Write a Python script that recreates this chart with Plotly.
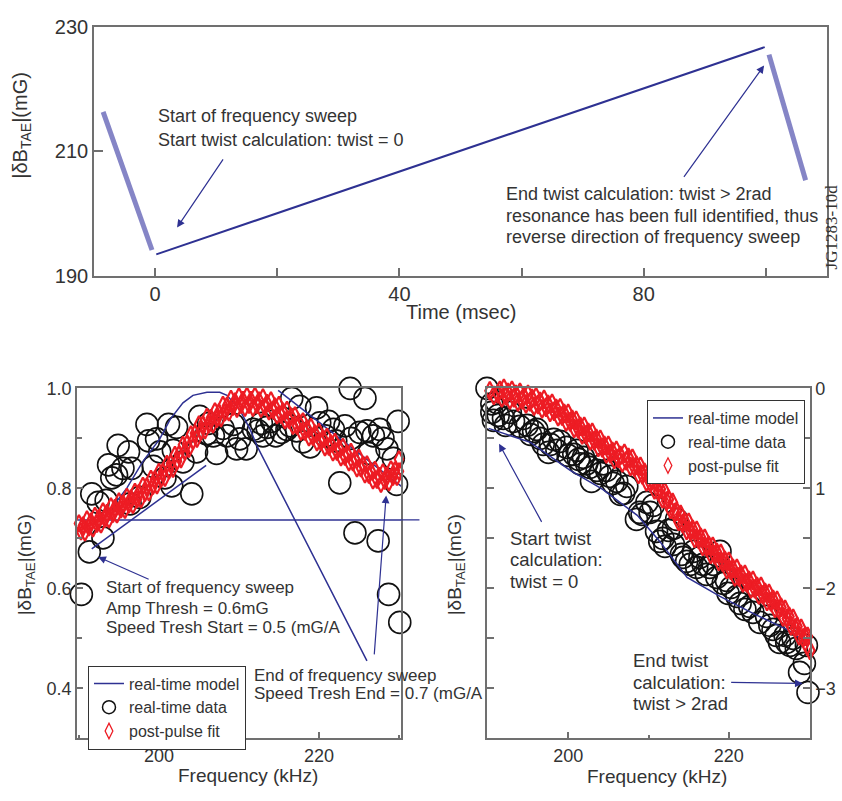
import plotly.graph_objects as go

# ---------------- top panel data ----------------
bar1_t = [-8.5, -0.5]
bar1_v = [216.3, 194.1]
sweep_t = [0.2, 99.8]
sweep_v = [193.4, 226.7]
bar2_t = [100.5, 106.5]
bar2_v = [225.5, 205.3]

# ---------------- bottom-left data ----------------
model_l_x = [189.8, 230.25, None,
             193.2, 193.9, 196.0, 198.0, 200.1, 201.4, 203.0, 204.25, 206.0, 207.6, 208.5, 210.1, 211.4, 212.25, 226.0, None,
             191.6, 205.9, None,
             214.9, 230.4]
model_l_y = [0.737, 0.737, None,
             0.74, 0.757, 0.801, 0.854, 0.899, 0.938, 0.971, 0.986, 0.992, 0.992, 0.986, 0.957, 0.918, 0.885, 0.455, None,
             0.679, 0.846, None,
             0.996, 0.803]

data_l_x = [189.7, 190.3, 191.3, 191.6, 192.4, 193.0, 193.4, 193.7, 194.1, 194.7, 194.9, 195.5, 196.2, 196.6, 196.4,
            197.6, 198.5, 198.7, 199.3, 199.7, 200.1, 200.75, 201.2, 201.6, 202.2, 201.8, 203.0, 204.1, 204.7, 205.1,
            205.95, 206.8, 207.2, 208.5, 209.3, 209.7, 210.1, 210.9, 211.8, 212.4, 213.0, 213.5, 214.1, 216.0, 216.6,
            217.6, 218.0, 218.9, 219.7, 220.1, 221.2, 221.8, 222.6, 223.25, 223.9, 224.5, 225.1, 225.75, 226.2, 226.8,
            227.4, 227.6, 228.5, 228.7, 229.3, 229.7, 229.9, 230.1,
            214.6, 215.3, 216.4, 217.2, 220.8, 222.1, 224.0, 226.0, 228.0, 212.8, 208.0, 206.2]
data_l_y = [0.772, 0.588, 0.673, 0.789, 0.772, 0.701, 0.776, 0.847, 0.821, 0.827, 0.886, 0.840, 0.873, 0.840, 0.769,
            0.782, 0.928, 0.895, 0.844, 0.899, 0.873, 0.821, 0.928, 0.805, 0.922, 0.876, 0.853, 0.789, 0.873, 0.944,
            0.909, 0.905, 0.870, 0.905, 0.928, 0.879, 0.899, 0.879, 0.918, 0.915, 0.905, 0.922, 0.934, 0.918, 0.980,
            0.964, 0.893, 0.883, 0.961, 0.931, 0.934, 0.918, 0.811, 0.925, 1.0, 0.711, 0.912, 0.980, 0.870, 0.905,
            0.695, 0.918, 0.879, 0.588, 0.860, 0.808, 0.934, 0.532,
            0.905, 0.912, 0.925, 0.915, 0.905, 0.895, 0.900, 0.915, 0.900, 0.930, 0.920, 0.930]

fit_x = [190.0, 190.25, 190.5, 190.75, 191.0, 191.25, 191.5, 191.75,
         192.0, 192.25, 192.5, 192.75, 193.0, 193.25, 193.5, 193.75,
         194.0, 194.25, 194.5, 194.75, 195.0, 195.25, 195.5, 195.75,
         196.0, 196.25, 196.5, 196.75, 197.0, 197.25, 197.5, 197.75,
         198.0, 198.25, 198.5, 198.75, 199.0, 199.25, 199.5, 199.75,
         200.0, 200.25, 200.5, 200.75, 201.0, 201.25, 201.5, 201.75,
         202.0, 202.25, 202.5, 202.75, 203.0, 203.25, 203.5, 203.75,
         204.0, 204.25, 204.5, 204.75, 205.0, 205.25, 205.5, 205.75,
         206.0, 206.25, 206.5, 206.75, 207.0, 207.25, 207.5, 207.75,
         208.0, 208.25, 208.5, 208.75, 209.0, 209.25, 209.5, 209.75,
         210.0, 210.25, 210.5, 210.75, 211.0, 211.25, 211.5, 211.75,
         212.0, 212.25, 212.5, 212.75, 213.0, 213.25, 213.5, 213.75,
         214.0, 214.25, 214.5, 214.75, 215.0, 215.25, 215.5, 215.75,
         216.0, 216.25, 216.5, 216.75, 217.0, 217.25, 217.5, 217.75,
         218.0, 218.25, 218.5, 218.75, 219.0, 219.25, 219.5, 219.75,
         220.0, 220.25, 220.5, 220.75, 221.0, 221.25, 221.5, 221.75,
         222.0, 222.25, 222.5, 222.75, 223.0, 223.25, 223.5, 223.75,
         224.0, 224.25, 224.5, 224.75, 225.0, 225.25, 225.5, 225.75,
         226.0, 226.25, 226.5, 226.75, 227.0, 227.25, 227.5, 227.75,
         228.0, 228.25, 228.5, 228.75, 229.0, 229.25, 229.5, 229.75]

fit_l_x = fit_x + [230.0, 230.0]
fit_l_y = [0.730, 0.714, 0.726, 0.712, 0.738, 0.722, 0.734, 0.720,
           0.745, 0.729, 0.741, 0.728, 0.754, 0.739, 0.751, 0.738,
           0.764, 0.749, 0.761, 0.748, 0.774, 0.758, 0.770, 0.757,
           0.783, 0.768, 0.780, 0.767, 0.793, 0.778, 0.791, 0.778,
           0.805, 0.791, 0.804, 0.792, 0.819, 0.805, 0.818, 0.806,
           0.833, 0.819, 0.833, 0.821, 0.849, 0.836, 0.850, 0.839,
           0.867, 0.854, 0.868, 0.858, 0.887, 0.874, 0.889, 0.879,
           0.908, 0.895, 0.910, 0.899, 0.928, 0.914, 0.928, 0.916,
           0.943, 0.928, 0.941, 0.928, 0.954, 0.939, 0.952, 0.940,
           0.967, 0.952, 0.965, 0.952, 0.979, 0.963, 0.974, 0.959,
           0.984, 0.967, 0.977, 0.961, 0.985, 0.967, 0.977, 0.961,
           0.985, 0.967, 0.976, 0.959, 0.982, 0.963, 0.971, 0.954,
           0.976, 0.956, 0.964, 0.946, 0.967, 0.947, 0.954, 0.936,
           0.957, 0.937, 0.944, 0.925, 0.946, 0.925, 0.932, 0.913,
           0.934, 0.913, 0.920, 0.902, 0.923, 0.903, 0.910, 0.892,
           0.913, 0.893, 0.900, 0.882, 0.903, 0.883, 0.890, 0.872,
           0.893, 0.873, 0.880, 0.862, 0.883, 0.863, 0.870, 0.852,
           0.873, 0.852, 0.859, 0.840, 0.861, 0.840, 0.847, 0.828,
           0.848, 0.827, 0.834, 0.816, 0.837, 0.817, 0.825, 0.809,
           0.832, 0.815, 0.826, 0.812, 0.838, 0.823, 0.836, 0.823,
           0.858, 0.834]

# ---------------- bottom-right data ----------------
model_r_x = [190.1, 195.3, 200.25, 204.3, 208.6, 211.4, 214.8, 218.9, 223.0, 227.2, 229.7]
model_r_y = [-0.40, -0.54, -0.82, -1.01, -1.27, -1.53, -1.89, -2.08, -2.25, -2.41, -2.54]

data_r_x = [189.9, 190.5, 190.7, 191.3, 192.2, 192.8, 194.0, 194.9, 195.7, 196.5, 197.55, 198.2, 199.0, 199.8, 200.7,
            201.3, 201.9, 202.3, 202.9, 203.6, 204.4, 205.2, 206.05, 206.5, 207.3, 208.5, 209.2, 209.8, 210.6, 211.4,
            212.05, 212.5, 213.1, 213.5, 214.1, 214.75, 215.2, 215.6, 216.4, 217.2, 217.6, 218.05, 218.9, 219.3, 219.9,
            220.3, 221.4, 222.0, 222.6, 223.85, 224.7, 225.5, 226.3, 227.0, 227.6, 228.4, 228.8, 229.4, 229.85, 229.65,
            190.5, 191.1, 191.95, 193.2, 194.45, 195.3, 196.1, 196.9, 197.8, 198.6, 200.0, 201.1, 201.5, 202.7, 204.0,
            204.8, 205.6, 206.9, 208.9, 210.2, 211.0, 211.8, 213.1, 214.3, 216.0, 216.8, 218.5, 219.7, 221.0, 223.0,
            225.1, 225.9, 227.2, 228.0]
data_r_y = [0.0, -0.155, -0.32, -0.27, -0.37, -0.24, -0.38, -0.37, -0.43, -0.50, -0.64, -0.51, -0.53, -0.59, -0.66,
            -0.71, -0.69, -0.755, -0.93, -0.82, -0.755, -0.88, -0.93, -1.06, -0.98, -1.31, -1.26, -1.14, -1.17, -1.53,
            -1.58, -1.42, -1.40, -1.31, -1.66, -1.73, -1.76, -1.63, -1.69, -1.86, -1.79, -1.76, -1.63, -1.95, -2.05,
            -1.99, -2.15, -2.21, -2.18, -2.34, -2.28, -2.41, -2.54, -2.47, -2.57, -2.60, -2.84, -2.75, -3.04, -2.57,
            -0.24, -0.14, -0.30, -0.33, -0.30, -0.46, -0.41, -0.56, -0.56, -0.62, -0.67, -0.62, -0.755, -0.79, -0.85,
            -0.82, -0.95, -1.05, -1.24, -1.24, -1.43, -1.50, -1.56, -1.69, -1.79, -1.76, -1.89, -1.92, -2.08, -2.24,
            -2.37, -2.47, -2.54, -2.50]

fit_r_x = fit_x + [229.8, 230.1]
fit_r_y = [0.040, -0.025, 0.010, -0.070, 0.020, -0.055, -0.020, -0.095,
           0.000, -0.075, -0.040, -0.115, -0.020, -0.095, -0.060, -0.135,
           -0.040, -0.115, -0.080, -0.155, -0.060, -0.135, -0.100, -0.178,
           -0.085, -0.163, -0.130, -0.205, -0.110, -0.190, -0.160, -0.240,
           -0.150, -0.230, -0.200, -0.283, -0.195, -0.278, -0.250, -0.335,
           -0.250, -0.335, -0.310, -0.400, -0.320, -0.405, -0.380, -0.465,
           -0.380, -0.465, -0.440, -0.525, -0.440, -0.525, -0.500, -0.590,
           -0.510, -0.595, -0.570, -0.655, -0.570, -0.655, -0.630, -0.710,
           -0.620, -0.700, -0.670, -0.745, -0.650, -0.725, -0.690, -0.780,
           -0.700, -0.790, -0.770, -0.860, -0.780, -0.865, -0.840, -0.935,
           -0.860, -0.945, -0.920, -1.015, -0.940, -1.030, -1.010, -1.105,
           -1.030, -1.125, -1.110, -1.210, -1.140, -1.240, -1.230, -1.330,
           -1.260, -1.350, -1.330, -1.420, -1.340, -1.430, -1.410, -1.500,
           -1.420, -1.510, -1.490, -1.580, -1.500, -1.590, -1.570, -1.660,
           -1.580, -1.665, -1.640, -1.730, -1.650, -1.740, -1.720, -1.810,
           -1.730, -1.820, -1.800, -1.885, -1.800, -1.885, -1.860, -1.945,
           -1.860, -1.945, -1.920, -2.005, -1.920, -2.005, -1.980, -2.065,
           -1.980, -2.065, -2.040, -2.130, -2.050, -2.135, -2.110, -2.200,
           -2.120, -2.210, -2.190, -2.285, -2.210, -2.300, -2.280, -2.375,
           -2.300, -2.395, -2.380, -2.475, -2.400, -2.495, -2.480, -2.575,
           -2.480, -2.620]

twist_ticks = [0, -1, -2, -3]
twist_labels = ["0", "1", "\u22122", "\u22123"]

# ---------------- styles ----------------
FONT = "Liberation Sans, Arial, sans-serif"
TXT = "#333333"
BLUE = "#2e3192"
LILAC = "#8585c6"
RED = "#ed1c24"
AX = "#707070"

CIRC = dict(symbol="circle-open", size=22, color="#111111", line=dict(width=1.6))
DIAM_L = dict(symbol="diamond-tall-open", size=12, color=RED, line=dict(width=2.2))
DIAM_R = dict(symbol="diamond-tall-open", size=13, color=RED, line=dict(width=2.2))

fig = go.Figure()

# top panel
fig.add_trace(go.Scatter(x=bar1_t, y=bar1_v, mode="lines", line=dict(color=LILAC, width=5),
                         xaxis="x", yaxis="y", showlegend=False))
fig.add_trace(go.Scatter(x=sweep_t, y=sweep_v, mode="lines", line=dict(color=BLUE, width=2),
                         xaxis="x", yaxis="y", showlegend=False))
fig.add_trace(go.Scatter(x=bar2_t, y=bar2_v, mode="lines", line=dict(color=LILAC, width=5),
                         xaxis="x", yaxis="y", showlegend=False))

# bottom-left
fig.add_trace(go.Scatter(x=data_l_x, y=data_l_y, mode="markers", marker=CIRC, cliponaxis=False,
                         xaxis="x2", yaxis="y2", showlegend=False))
fig.add_trace(go.Scatter(x=model_l_x, y=model_l_y, mode="lines", line=dict(color=BLUE, width=1.5),
                         connectgaps=False, xaxis="x2", yaxis="y2", showlegend=False))
fig.add_trace(go.Scatter(x=fit_l_x, y=fit_l_y, mode="markers", marker=DIAM_L, cliponaxis=False,
                         xaxis="x2", yaxis="y2", showlegend=False))

# bottom-right
fig.add_trace(go.Scatter(x=data_r_x, y=data_r_y, mode="markers", marker=CIRC, cliponaxis=False,
                         xaxis="x3", yaxis="y3", showlegend=False))
fig.add_trace(go.Scatter(x=model_r_x, y=model_r_y, mode="lines", line=dict(color=BLUE, width=1.5),
                         xaxis="x3", yaxis="y3", showlegend=False))
fig.add_trace(go.Scatter(x=fit_r_x, y=fit_r_y, mode="markers", marker=DIAM_R, cliponaxis=False,
                         xaxis="x3", yaxis="y3", showlegend=False))

# legend entries (one set per lower panel)
for lg, xa, ya in (("legend", "x2", "y2"), ("legend2", "x3", "y3")):
    fig.add_trace(go.Scatter(x=[None], y=[None], mode="lines", name="real-time model",
                             line=dict(color=BLUE, width=1.5), xaxis=xa, yaxis=ya, legend=lg))
    fig.add_trace(go.Scatter(x=[None], y=[None], mode="markers", name="real-time data",
                             marker=dict(symbol="circle-open", size=13, color="#111111", line=dict(width=1.5)),
                             xaxis=xa, yaxis=ya, legend=lg))
    fig.add_trace(go.Scatter(x=[None], y=[None], mode="markers", name="post-pulse fit",
                             marker=dict(symbol="diamond-tall-open", size=11, color=RED, line=dict(width=1.3)),
                             xaxis=xa, yaxis=ya, legend=lg))


def axis(**kw):
    base = dict(showline=True, linecolor=AX, linewidth=1.5, mirror=True, showgrid=False, zeroline=False,
                ticks="inside", tickcolor=AX, tickwidth=1.5,
                tickfont=dict(family=FONT, size=18, color=TXT))
    base.update(kw)
    return base


minor_style = dict(ticks="inside", tickcolor=AX, tickwidth=1.5, showgrid=False)
legend_style = dict(xanchor="left", yanchor="top", bgcolor="white", bordercolor="#333333", borderwidth=1,
                    font=dict(family=FONT, size=16, color=TXT), itemsizing="trace", tracegroupgap=0)

fig.update_layout(
    width=842, height=801, margin=dict(l=0, r=0, t=0, b=0),
    paper_bgcolor="white", plot_bgcolor="white",
    font=dict(family=FONT, color=TXT),
    xaxis=axis(domain=[0.1116, 0.9822], anchor="y", range=[-10, 110], tick0=0, dtick=40, ticklen=8,
               tickfont=dict(family=FONT, size=20, color=TXT),
               minor=dict(tick0=0, dtick=20, ticklen=8, **minor_style)),
    yaxis=axis(domain=[0.6604, 0.9800], anchor="x", range=[190, 230], tick0=190, dtick=20, ticklen=9,
               tickfont=dict(family=FONT, size=20, color=TXT)),
    xaxis2=axis(domain=[0.0914, 0.4762], anchor="y2", range=[189.75, 230.25], tick0=200, dtick=20, ticklen=7,
                minor=dict(tick0=200, dtick=10, ticklen=4, **minor_style)),
    yaxis2=axis(domain=[0.0662, 0.5156], anchor="x2", range=[0.3, 1.0], tick0=0.4, dtick=0.2, ticklen=6,
                tickformat=".1f",
                minor=dict(tick0=0.3, dtick=0.1, ticklen=5, **minor_style)),
    xaxis3=axis(domain=[0.5784, 0.9620], anchor="y3", range=[189.9, 230.1], tick0=200, dtick=20, ticklen=7,
                minor=dict(tick0=200, dtick=10, ticklen=4, **minor_style)),
    yaxis3=axis(domain=[0.0662, 0.5156], anchor="x3", side="right", mirror="ticks", range=[-3.5, 0.0],
                tickmode="array", tickvals=twist_ticks, ticktext=twist_labels, ticklen=7,
                minor=dict(tickmode="array", tickvals=[-0.5, -1.5, -2.5], ticklen=7, **minor_style)),
    legend=dict(x=0.1045, y=0.1598, **legend_style),
    legend2=dict(x=0.7684, y=0.5006, **legend_style),
)

ann = []


def text(x, y, s, xref, yref, size, xanchor="left", angle=0, family=FONT):
    ann.append(dict(x=x, y=y, xref=xref, yref=yref, text=s, showarrow=False, xanchor=xanchor, yanchor="middle",
                    textangle=angle, font=dict(family=family, size=size, color=TXT)))


def arrow(x, y, ax, ay, xr, yr, head=2):
    ann.append(dict(x=x, y=y, ax=ax, ay=ay, xref=xr, yref=yr, axref=xr, ayref=yr, text="", showarrow=True,
                    arrowhead=head, arrowsize=1.3, arrowwidth=1.2, arrowcolor=BLUE, standoff=0, startstandoff=0))


# top panel texts
text(0.16, 215.6, "Start of frequency sweep", "x", "y", 18)
text(0.16, 211.7, "Start twist calculation: twist = 0", "x", "y", 18)
text(57.1, 203.1, "End twist calculation: twist > 2rad", "x", "y", 18)
text(57.1, 199.5, "resonance has been full identified, thus", "x", "y", 18)
text(57.1, 196.25, "reverse direction of frequency sweep", "x", "y", 18)
arrow(3.6, 197.7, 11.3, 208.9, "x", "y")
arrow(99.7, 223.75, 86.4, 205.6, "x", "y")

# bottom-left texts
text(193.1, 0.601, "Start of frequency sweep", "x2", "y2", 17)
text(193.1, 0.560, "Amp Thresh = 0.6mG", "x2", "y2", 17)
text(193.1, 0.521, "Speed Tresh Start = 0.5 (mG/A", "x2", "y2", 17)
text(211.6, 0.426, "End of frequency sweep", "x2", "y2", 17)
text(211.6, 0.389, "Speed Tresh End = 0.7 (mG/A", "x2", "y2", 17)
arrow(192.4, 0.663, 198.9, 0.617, "x2", "y2")
arrow(228.4, 0.786, 226.9, 0.465, "x2", "y2")
arrow(230.2, 0.737, 232.75, 0.737, "x2", "y2", head=0)

# bottom-right texts
text(192.55, -1.50, "Start twist", "x3", "y3", 18.5)
text(192.55, -1.71, "calculation:", "x3", "y3", 18.5)
text(192.55, -1.93, "twist = 0", "x3", "y3", 18.5)
text(207.8, -2.72, "End twist", "x3", "y3", 18.5)
text(207.8, -2.94, "calculation:", "x3", "y3", 18.5)
text(207.8, -3.15, "twist > 2rad", "x3", "y3", 18.5)
arrow(191.4, -0.554, 196.8, -1.35, "x3", "y3")
arrow(229.2, -2.95, 220.1, -2.94, "x3", "y3")

# axis titles
ytitle = "|\u03b4B<sub>TAE</sub>|(mG)"
text(0.5475, 0.6142, "Time (msec)", "paper", "paper", 20, xanchor="center")
text(0.2945, 0.0187, "Frequency (kHz)", "paper", "paper", 19, xanchor="center")
text(0.780, 0.0175, "Frequency (kHz)", "paper", "paper", 19, xanchor="center")
text(0.0261, 0.854, ytitle, "paper", "paper", 20, xanchor="center", angle=-90)
text(0.0309, 0.2884, ytitle, "paper", "paper", 19, xanchor="center", angle=-90)
text(0.5416, 0.2884, ytitle, "paper", "paper", 19, xanchor="center", angle=-90)
text(0.9875, 0.7228, "JG1283-10d", "paper", "paper", 17, xanchor="center", angle=-90,
     family="Liberation Serif, Times New Roman, serif")

fig.update_layout(annotations=ann)
fig.write_html("out.html")
